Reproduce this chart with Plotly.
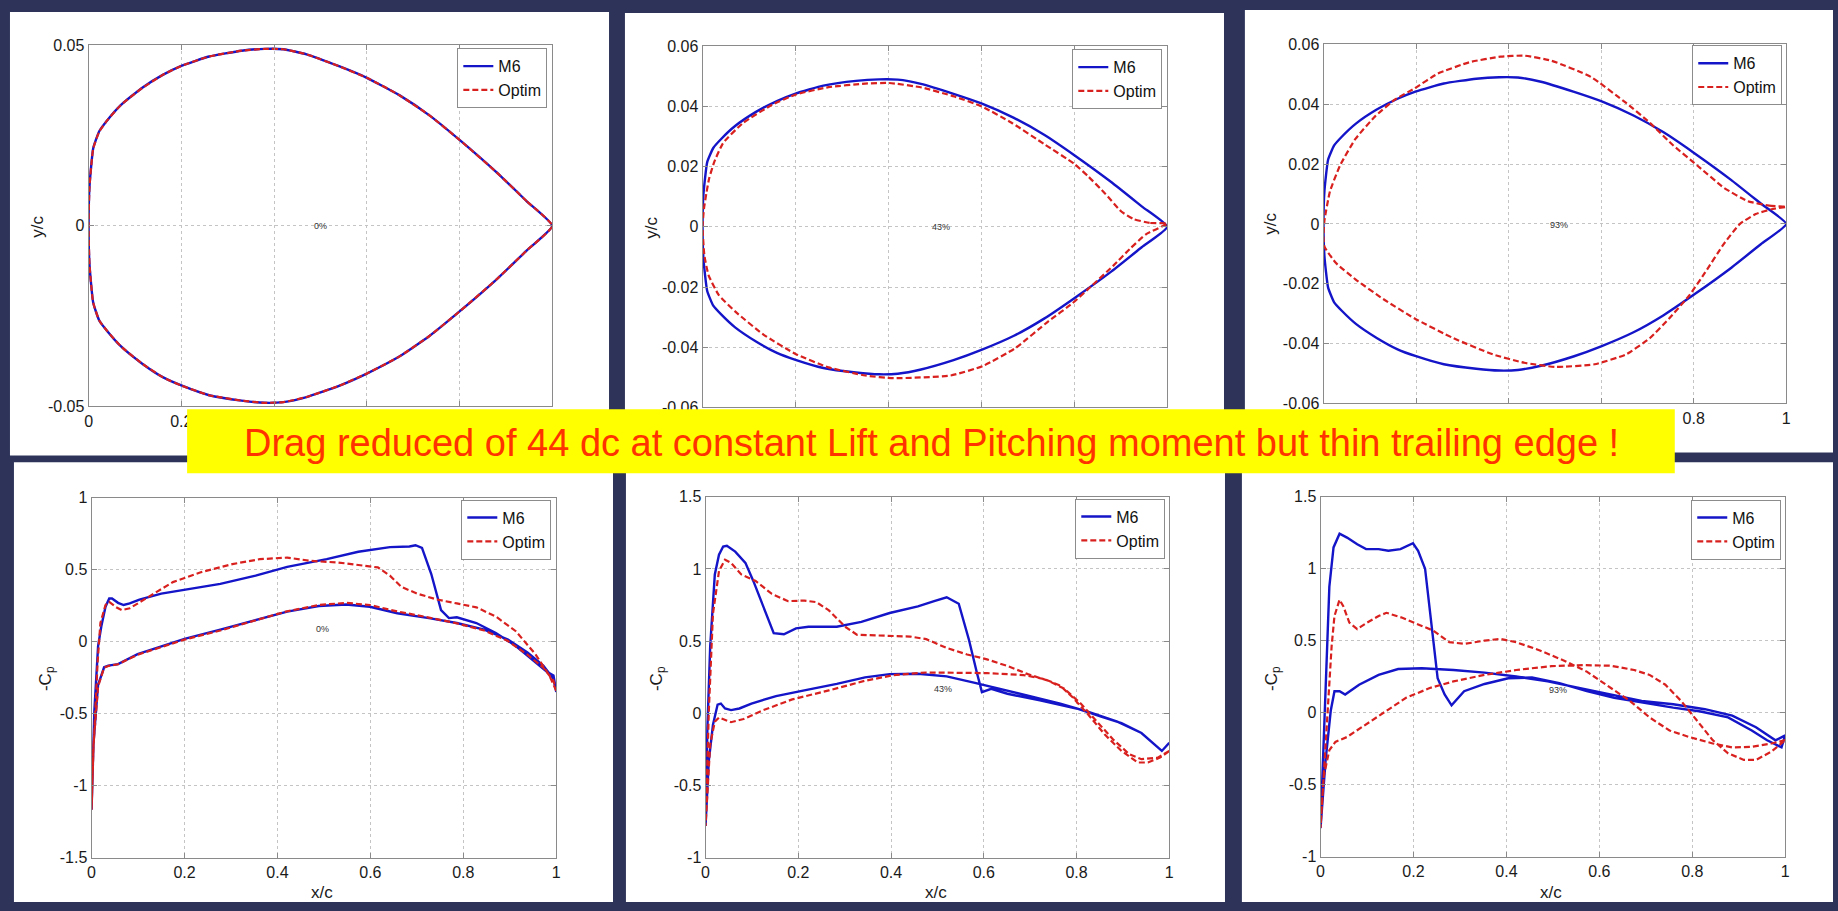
import plotly.graph_objects as go

W, H = 1838, 911

# ---------------- DATA ----------------
# Baseline M6 section (same in the three geometry panels)
m6_up_x = [0, 0.002, 0.01, 0.023, 0.04, 0.07, 0.115, 0.16, 0.2, 0.26, 0.33, 0.38, 0.42, 0.47, 0.54, 0.6, 0.67, 0.735, 0.8, 0.88, 0.945, 1.0]
m6_up_y = [0, 0.011, 0.0215, 0.0262, 0.0292, 0.0335, 0.0382, 0.0418, 0.0443, 0.0469, 0.0485, 0.049, 0.0489, 0.0475, 0.0442, 0.041, 0.0362, 0.0306, 0.0238, 0.0148, 0.0068, 0.0]
m6_lo_x = [0, 0.002, 0.01, 0.023, 0.04, 0.07, 0.115, 0.16, 0.2, 0.26, 0.33, 0.38, 0.42, 0.47, 0.54, 0.6, 0.67, 0.735, 0.8, 0.88, 0.945, 1.0]
m6_lo_y = [0, -0.0108, -0.0213, -0.0262, -0.0291, -0.0334, -0.0381, -0.0419, -0.0442, -0.0469, -0.0484, -0.049, -0.0488, -0.0474, -0.0443, -0.0409, -0.0362, -0.0305, -0.0237, -0.0148, -0.0068, 0.0]

# Optimised section at 0 %
opt0_up_x = [0, 0.002, 0.01, 0.023, 0.04, 0.07, 0.115, 0.16, 0.2, 0.26, 0.33, 0.38, 0.42, 0.47, 0.54, 0.6, 0.67, 0.735, 0.8, 0.88, 0.945, 1.0]
opt0_up_y = [0, 0.0109, 0.0214, 0.0261, 0.0292, 0.0335, 0.0381, 0.0418, 0.0443, 0.0469, 0.0485, 0.049, 0.0489, 0.0475, 0.0442, 0.041, 0.0362, 0.0306, 0.0238, 0.0148, 0.0068, 0.0]
opt0_lo_x = [0, 0.002, 0.01, 0.023, 0.04, 0.07, 0.115, 0.16, 0.2, 0.26, 0.33, 0.38, 0.42, 0.47, 0.54, 0.6, 0.67, 0.735, 0.8, 0.88, 0.945, 1.0]
opt0_lo_y = [0, -0.0108, -0.0213, -0.0262, -0.0291, -0.0334, -0.0381, -0.0419, -0.0442, -0.0469, -0.0484, -0.049, -0.0488, -0.0474, -0.0443, -0.0409, -0.0362, -0.0305, -0.0237, -0.0148, -0.0068, 0.0]

# Optimised section at 43 %
opt43_up_x = [0, 0.003, 0.008, 0.014, 0.025, 0.044, 0.087, 0.149, 0.201, 0.271, 0.35, 0.402, 0.472, 0.542, 0.601, 0.665, 0.735, 0.8, 0.831, 0.866, 0.901, 0.927, 0.962, 1.0]
opt43_up_y = [0, 0.006, 0.011, 0.016, 0.0215, 0.0278, 0.0345, 0.0405, 0.0440, 0.0464, 0.0476, 0.0478, 0.0463, 0.0433, 0.04, 0.0346, 0.0275, 0.0209, 0.0166, 0.0111, 0.0051, 0.0026, 0.0013, 0.0011]
opt43_lo_x = [0, 0.004, 0.013, 0.035, 0.07, 0.131, 0.201, 0.271, 0.35, 0.411, 0.534, 0.604, 0.674, 0.744, 0.796, 0.831, 0.884, 0.919, 0.954, 1.0]
opt43_lo_y = [0, -0.0096, -0.0161, -0.0227, -0.0281, -0.0358, -0.0423, -0.0467, -0.0494, -0.0503, -0.0494, -0.0462, -0.0402, -0.0314, -0.0254, -0.0205, -0.0129, -0.0074, -0.0025, 0.0011]

# Optimised section at 93 %
opt93_up_x = [0, 0.002, 0.014, 0.036, 0.069, 0.112, 0.154, 0.197, 0.247, 0.315, 0.383, 0.434, 0.493, 0.578, 0.654, 0.705, 0.756, 0.807, 0.866, 0.917, 0.968, 1.0]
opt93_up_y = [-0.0044, 0.0011, 0.0109, 0.0196, 0.0284, 0.036, 0.0415, 0.0453, 0.0502, 0.054, 0.0559, 0.0562, 0.0545, 0.0491, 0.0404, 0.0338, 0.0262, 0.0196, 0.012, 0.0076, 0.006, 0.0057]
opt93_lo_x = [0, 0.002, 0.027, 0.069, 0.129, 0.197, 0.281, 0.366, 0.434, 0.502, 0.586, 0.654, 0.705, 0.747, 0.79, 0.824, 0.866, 0.9, 0.934, 0.968, 1.0]
opt93_lo_y = [-0.0044, -0.0076, -0.0131, -0.0185, -0.0251, -0.0316, -0.0382, -0.0436, -0.0464, -0.0478, -0.0469, -0.0436, -0.0382, -0.0316, -0.024, -0.0164, -0.0065, 0.0, 0.0033, 0.0049, 0.0057]

# -Cp at 0 %
cp0_m6_up_x = [0, 0.002, 0.006, 0.014, 0.021, 0.03, 0.038, 0.044, 0.057, 0.069, 0.082, 0.103, 0.15, 0.2, 0.277, 0.353, 0.421, 0.506, 0.574, 0.642, 0.684, 0.697, 0.711, 0.731, 0.752, 0.769, 0.786, 0.828, 0.87, 0.913, 0.955, 0.981, 0.994, 1.0]
cp0_m6_up_y = [-1.166, -0.94, -0.48, -0.03, 0.107, 0.243, 0.3, 0.3, 0.27, 0.255, 0.266, 0.293, 0.334, 0.361, 0.402, 0.459, 0.52, 0.573, 0.625, 0.657, 0.661, 0.67, 0.652, 0.47, 0.22, 0.164, 0.17, 0.13, 0.061, -0.03, -0.143, -0.211, -0.234, -0.348]
cp0_m6_lo_x = [0, 0.004, 0.014, 0.027, 0.036, 0.057, 0.099, 0.15, 0.2, 0.277, 0.353, 0.421, 0.489, 0.548, 0.599, 0.658, 0.726, 0.786, 0.845, 0.896, 0.938, 0.972, 0.994, 1.0]
cp0_m6_lo_y = [-1.166, -0.71, -0.3, -0.177, -0.166, -0.155, -0.086, -0.03, 0.02, 0.084, 0.152, 0.209, 0.248, 0.259, 0.243, 0.198, 0.164, 0.13, 0.084, 0.016, -0.075, -0.166, -0.257, -0.348]
cp0_opt_up_x = [0, 0.004, 0.013, 0.019, 0.03, 0.038, 0.053, 0.065, 0.082, 0.099, 0.133, 0.175, 0.235, 0.303, 0.362, 0.421, 0.472, 0.531, 0.616, 0.642, 0.667, 0.701, 0.743, 0.786, 0.828, 0.87, 0.913, 0.955, 0.985, 1.0]
cp0_opt_up_y = [-1.166, -0.75, -0.143, 0.13, 0.255, 0.277, 0.239, 0.22, 0.232, 0.27, 0.334, 0.414, 0.482, 0.539, 0.573, 0.584, 0.561, 0.55, 0.516, 0.459, 0.38, 0.334, 0.293, 0.266, 0.239, 0.175, 0.073, -0.086, -0.234, -0.34]
cp0_opt_lo_x = [0, 0.004, 0.014, 0.027, 0.036, 0.057, 0.099, 0.15, 0.2, 0.277, 0.353, 0.421, 0.489, 0.548, 0.599, 0.658, 0.726, 0.786, 0.845, 0.896, 0.938, 0.972, 0.994, 1.0]
cp0_opt_lo_y = [-1.166, -0.72, -0.31, -0.18, -0.168, -0.156, -0.09, -0.035, 0.015, 0.078, 0.148, 0.212, 0.255, 0.27, 0.255, 0.21, 0.168, 0.128, 0.078, 0.005, -0.09, -0.18, -0.27, -0.34]

# -Cp at 43 %
cp43_m6_up_x = [0, 0.004, 0.01, 0.02, 0.029, 0.038, 0.046, 0.064, 0.086, 0.103, 0.125, 0.147, 0.169, 0.195, 0.222, 0.283, 0.336, 0.397, 0.458, 0.493, 0.52, 0.546, 0.568, 0.585, 0.596, 0.616, 0.651, 0.721, 0.8, 0.853, 0.897, 0.94, 0.984, 1.0]
cp43_m6_up_y = [-0.78, -0.1, 0.464, 0.962, 1.098, 1.155, 1.16, 1.12, 1.042, 0.917, 0.736, 0.555, 0.548, 0.589, 0.6, 0.6, 0.634, 0.695, 0.741, 0.777, 0.804, 0.759, 0.51, 0.283, 0.147, 0.17, 0.136, 0.09, 0.034, -0.023, -0.068, -0.136, -0.26, -0.204]
cp43_m6_lo_x = [0, 0.007, 0.016, 0.026, 0.033, 0.042, 0.055, 0.073, 0.099, 0.152, 0.213, 0.283, 0.344, 0.397, 0.458, 0.52, 0.581, 0.634, 0.695, 0.765, 0.826, 0.888, 0.94, 0.984, 1.0]
cp43_m6_lo_y = [-0.78, -0.328, -0.079, 0.061, 0.068, 0.034, 0.023, 0.034, 0.068, 0.12, 0.159, 0.204, 0.249, 0.272, 0.274, 0.256, 0.211, 0.17, 0.125, 0.068, 0.011, -0.057, -0.136, -0.26, -0.204]
cp43_opt_up_x = [0, 0.007, 0.016, 0.029, 0.042, 0.055, 0.077, 0.108, 0.143, 0.178, 0.213, 0.239, 0.266, 0.301, 0.327, 0.388, 0.441, 0.476, 0.52, 0.564, 0.607, 0.651, 0.695, 0.739, 0.774, 0.809, 0.844, 0.879, 0.914, 0.94, 0.975, 1.0]
cp43_opt_up_y = [-0.78, 0.011, 0.69, 0.985, 1.064, 1.042, 0.962, 0.917, 0.827, 0.777, 0.781, 0.77, 0.713, 0.6, 0.544, 0.537, 0.532, 0.514, 0.453, 0.408, 0.374, 0.328, 0.272, 0.226, 0.17, 0.068, -0.057, -0.181, -0.283, -0.317, -0.306, -0.26]
cp43_opt_lo_x = [0, 0.01, 0.02, 0.029, 0.042, 0.055, 0.082, 0.125, 0.187, 0.266, 0.344, 0.406, 0.476, 0.537, 0.607, 0.686, 0.73, 0.765, 0.791, 0.826, 0.861, 0.897, 0.932, 0.954, 0.98, 1.0]
cp43_opt_lo_y = [-0.78, -0.215, -0.057, -0.029, -0.045, -0.061, -0.039, 0.023, 0.097, 0.159, 0.226, 0.265, 0.283, 0.283, 0.279, 0.265, 0.238, 0.192, 0.113, -0.011, -0.147, -0.26, -0.34, -0.34, -0.306, -0.26]

# -Cp at 93 %
cp93_m6_up_x = [0, 0.007, 0.019, 0.028, 0.041, 0.057, 0.079, 0.098, 0.125, 0.146, 0.172, 0.199, 0.21, 0.225, 0.235, 0.252, 0.267, 0.282, 0.309, 0.353, 0.404, 0.455, 0.514, 0.573, 0.632, 0.691, 0.759, 0.818, 0.877, 0.928, 0.961, 0.992, 1.0]
cp93_m6_up_y = [-0.8, -0.213, 0.876, 1.148, 1.243, 1.216, 1.17, 1.136, 1.136, 1.125, 1.136, 1.177, 1.125, 1.0, 0.74, 0.24, 0.127, 0.052, 0.15, 0.2, 0.24, 0.245, 0.206, 0.15, 0.104, 0.07, 0.036, 0.009, -0.032, -0.123, -0.191, -0.24, -0.157]
cp93_m6_lo_x = [0, 0.011, 0.022, 0.03, 0.041, 0.053, 0.083, 0.125, 0.167, 0.218, 0.286, 0.353, 0.421, 0.489, 0.556, 0.624, 0.691, 0.759, 0.827, 0.886, 0.937, 0.979, 1.0]
cp93_m6_lo_y = [-0.8, -0.327, 0.014, 0.15, 0.15, 0.127, 0.195, 0.263, 0.304, 0.309, 0.297, 0.279, 0.252, 0.218, 0.172, 0.123, 0.082, 0.059, 0.025, -0.02, -0.1, -0.191, -0.157]
cp93_opt_up_x = [0, 0.011, 0.024, 0.03, 0.041, 0.049, 0.062, 0.079, 0.1, 0.125, 0.142, 0.176, 0.218, 0.243, 0.277, 0.311, 0.353, 0.387, 0.421, 0.472, 0.522, 0.573, 0.624, 0.666, 0.708, 0.751, 0.793, 0.844, 0.886, 0.928, 0.97, 1.0]
cp93_opt_up_y = [-0.8, -0.213, 0.467, 0.672, 0.785, 0.74, 0.626, 0.581, 0.626, 0.672, 0.694, 0.66, 0.603, 0.57, 0.49, 0.479, 0.501, 0.513, 0.49, 0.433, 0.365, 0.286, 0.172, 0.082, -0.032, -0.123, -0.168, -0.213, -0.24, -0.236, -0.213, -0.19]
cp93_opt_lo_x = [0, 0.007, 0.019, 0.032, 0.057, 0.1, 0.142, 0.184, 0.235, 0.286, 0.353, 0.421, 0.497, 0.565, 0.624, 0.675, 0.708, 0.742, 0.776, 0.81, 0.844, 0.877, 0.911, 0.937, 0.97, 1.0]
cp93_opt_lo_y = [-0.8, -0.44, -0.259, -0.202, -0.168, -0.077, 0.014, 0.104, 0.172, 0.218, 0.263, 0.297, 0.324, 0.331, 0.327, 0.297, 0.263, 0.195, 0.082, -0.054, -0.19, -0.281, -0.327, -0.327, -0.27, -0.19]

x_ticks = [0, 0.2, 0.4, 0.6, 0.8, 1]
x_ticklabels = ["0", "0.2", "0.4", "0.6", "0.8", "1"]
y_ticks_geo0 = [-0.05, 0, 0.05]
y_ticklabels_geo0 = ["-0.05", "0", "0.05"]
y_ticks_geo = [-0.06, -0.04, -0.02, 0, 0.02, 0.04, 0.06]
y_ticklabels_geo = ["-0.06", "-0.04", "-0.02", "0", "0.02", "0.04", "0.06"]
y_ticks_cp0 = [-1.5, -1, -0.5, 0, 0.5, 1]
y_ticklabels_cp0 = ["-1.5", "-1", "-0.5", "0", "0.5", "1"]
y_ticks_cp = [-1, -0.5, 0, 0.5, 1, 1.5]
y_ticklabels_cp = ["-1", "-0.5", "0", "0.5", "1", "1.5"]
span_labels = ["0%", "43%", "93%"]
series_names = ["M6", "Optim"]
banner_text = "Drag reduced of 44 dc at constant Lift and Pitching moment but thin trailing edge !"

# ---------------- STYLE / LAYOUT ----------------
NAVY = "#2e3459"
BLUE = "#1414c8"
RED = "#d8211f"
FONT = "Liberation Sans, Arial, sans-serif"


def px(x):
    return x / W


def py(y):
    return 1 - y / H


def contour(ux, uy, lx, ly):
    return list(reversed(ux)) + lx[1:], list(reversed(uy)) + ly[1:]


# plot areas (pixel boxes: x0, x1, y0(top), y1(bottom))
boxes = [
    (85, 551, 38, 406),
    (702, 1169, 39, 407),
    (1326, 1791, 37, 403),
    (88, 555, 499, 866),
    (705, 1171, 498, 866),
    (1323, 1790, 498, 865),
]

panels = [
    (m6_up_x, m6_up_y, m6_lo_x, m6_lo_y, opt0_up_x, opt0_up_y, opt0_lo_x, opt0_lo_y),
    (m6_up_x, m6_up_y, m6_lo_x, m6_lo_y, opt43_up_x, opt43_up_y, opt43_lo_x, opt43_lo_y),
    (m6_up_x, m6_up_y, m6_lo_x, m6_lo_y, opt93_up_x, opt93_up_y, opt93_lo_x, opt93_lo_y),
    (cp0_m6_up_x, cp0_m6_up_y, cp0_m6_lo_x, cp0_m6_lo_y, cp0_opt_up_x, cp0_opt_up_y, cp0_opt_lo_x, cp0_opt_lo_y),
    (cp43_m6_up_x, cp43_m6_up_y, cp43_m6_lo_x, cp43_m6_lo_y, cp43_opt_up_x, cp43_opt_up_y, cp43_opt_lo_x, cp43_opt_lo_y),
    (cp93_m6_up_x, cp93_m6_up_y, cp93_m6_lo_x, cp93_m6_lo_y, cp93_opt_up_x, cp93_opt_up_y, cp93_opt_lo_x, cp93_opt_lo_y),
]

yranges = [(-0.05, 0.05), (-0.06, 0.06), (-0.06, 0.06), (-1.5, 1), (-1, 1.5), (-1, 1.5)]
yticks = [(y_ticks_geo0, y_ticklabels_geo0), (y_ticks_geo, y_ticklabels_geo), (y_ticks_geo, y_ticklabels_geo),
          (y_ticks_cp0, y_ticklabels_cp0), (y_ticks_cp, y_ticklabels_cp), (y_ticks_cp, y_ticklabels_cp)]

# which x tick labels stay visible (the banner hides the others on the top row)
x_label_sets = [[0, 1], [], [4, 5], [0, 1, 2, 3, 4, 5], [0, 1, 2, 3, 4, 5], [0, 1, 2, 3, 4, 5]]

# legend boxes (right, top) in pixels
legend_pos = [(546, 41), (1164, 42), (1787, 38), (550, 501), (1167, 500), (1786, 501)]

# percent labels positions in data units
pct_pos = [(0.5, 0.0), (0.514, 0.0), (0.508, -0.0005), (0.497, 0.089), (0.511, 0.17), (0.51, 0.157)]

fig = go.Figure()
layout = dict(
    width=W, height=H, autosize=False,
    margin=dict(l=0, r=0, t=0, b=0, pad=0),
    paper_bgcolor=NAVY, plot_bgcolor="white",
    font=dict(family=FONT, size=16, color="#1a1a1a"),
    shapes=[], annotations=[],
)

for i in range(6):
    k = "" if i == 0 else str(i + 1)
    x0, x1, y0, y1 = boxes[i]
    ux, uy, lx, ly, oux, ouy, olx, oly = panels[i]
    mx, my = contour(ux, uy, lx, ly)
    ox, oy = contour(oux, ouy, olx, oly)
    leg = "legend" + k
    shape = "spline" if i < 3 else "linear"
    fig.add_trace(go.Scatter(x=mx, y=my, mode="lines", name=series_names[0],
                             line=dict(color=BLUE, width=2.4, shape=shape, smoothing=0.45),
                             xaxis="x" + k, yaxis="y" + k, legend=leg, hoverinfo="skip"))
    fig.add_trace(go.Scatter(x=ox, y=oy, mode="lines", name=series_names[1],
                             line=dict(color=RED, width=2.2, dash="6px,3px", shape=shape, smoothing=0.45),
                             xaxis="x" + k, yaxis="y" + k, legend=leg, hoverinfo="skip"))
    grid = dict(showgrid=True, gridcolor="#c4c4c4", griddash="dot", gridwidth=1)
    axcommon = dict(showline=True, mirror="ticks", linecolor="#8a8a8a", linewidth=1,
                    ticks="inside", ticklen=5, tickcolor="#8a8a8a", zeroline=False,
                    tickfont=dict(family=FONT, size=16, color="#1a1a1a"), fixedrange=True)
    shown = x_label_sets[i]
    hidden = [j for j in range(len(x_ticks)) if j not in shown]
    xax = dict(domain=[px(x0), px(x1)], range=[0, 1], anchor="y" + k, **grid, **axcommon)
    if shown:
        xax["tickvals"] = [x_ticks[j] for j in shown]
        xax["ticktext"] = [x_ticklabels[j] for j in shown]
    else:
        xax["tickvals"] = x_ticks
        xax["showticklabels"] = False
    if shown and hidden:
        xax["minor"] = dict(tickvals=[x_ticks[j] for j in hidden], ticks="inside", ticklen=5,
                            tickcolor="#8a8a8a", **grid)
    layout["xaxis" + k] = xax
    layout["yaxis" + k] = dict(domain=[py(y1), py(y0)], range=list(yranges[i]), anchor="x" + k,
                               tickvals=yticks[i][0], ticktext=yticks[i][1], **grid, **axcommon)
    lr, lt = legend_pos[i]
    layout[leg] = dict(x=px(lr), y=py(lt), xanchor="right", yanchor="top",
                       bgcolor="white", bordercolor="#8c8c8c", borderwidth=1,
                       font=dict(family=FONT, size=16, color="#111"), tracegroupgap=0,
                       itemwidth=30)
    layout["annotations"].append(dict(x=pct_pos[i][0], y=pct_pos[i][1], xref="x" + k, yref="y" + k,
                                      text=span_labels[i % 3], showarrow=False,
                                      font=dict(family=FONT, size=9, color="#333")))

# white cards (pixel boxes)
cards = [
    (6, 608, 4, 456), (624, 1226, 5, 456), (1247, 1838, 2, 453),
    (10, 612, 463, 911), (625, 1227, 470, 911), (1244, 1838, 463, 911),
]
for (a, b, c, d) in cards:
    layout["shapes"].append(dict(type="rect", xref="paper", yref="paper", x0=px(a), x1=px(b),
                                 y0=py(d), y1=py(c), fillcolor="white", line=dict(width=0), layer="below"))

# banner
layout["shapes"].append(dict(type="rect", xref="paper", yref="paper", x0=px(184), x1=px(1679),
                             y0=py(474), y1=py(409), fillcolor="#ffff00", line=dict(width=0), layer="above"))
layout["annotations"].append(dict(x=px(932), y=py(443), xref="paper", yref="paper", text=banner_text,
                                  showarrow=False, xanchor="center", yanchor="middle",
                                  font=dict(family=FONT, size=38, color="#ff3300")))

# axis titles
ytitles = [("y/c", 34, 223), ("y/c", 651, 224), ("y/c", 1273, 220),
           ("-C<sub>p</sub>", 43, 683), ("-C<sub>p</sub>", 657, 683), ("-C<sub>p</sub>", 1275, 683)]
for t, x, y in ytitles:
    layout["annotations"].append(dict(x=px(x), y=py(y), xref="paper", yref="paper", text=t, textangle=-90,
                                      showarrow=False, xanchor="center", yanchor="middle",
                                      font=dict(family=FONT, size=17, color="#1a1a1a")))
for x in (320, 937, 1555):
    layout["annotations"].append(dict(x=px(x), y=py(901), xref="paper", yref="paper", text="x/c",
                                      showarrow=False, xanchor="center", yanchor="middle",
                                      font=dict(family=FONT, size=17, color="#1a1a1a")))

fig.update_layout(**layout)
fig.write_html("out.html", config={"displayModeBar": False})
